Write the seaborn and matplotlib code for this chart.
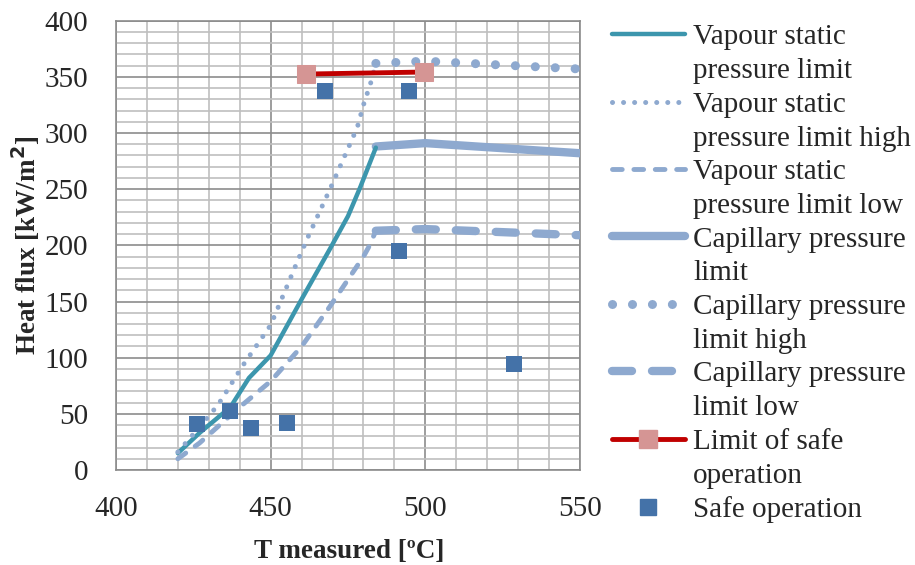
import matplotlib
matplotlib.use("Agg")
import matplotlib.pyplot as plt
import seaborn as sns
import pandas as pd
from matplotlib.lines import Line2D
from matplotlib.ticker import MultipleLocator

# ---------------- data ----------------
vap_x = [420, 427, 437, 443, 450, 460, 469, 475, 479, 484]
vap_y = [15, 33, 56, 82, 102, 152, 196, 226, 252, 287]

vap_hi_x = [420, 426, 433, 441, 450, 459, 462, 470, 478, 480, 482.5, 484]
vap_hi_y = [16, 35, 58, 93, 129, 188, 207, 255, 305, 325, 346, 362]

vap_lo_x = [420, 427, 440, 450, 460, 469, 480, 482, 484]
vap_lo_y = [10, 24, 56, 79, 110, 145, 190, 200, 213]

cap_x = [484, 500, 550]
cap_y = [288, 291, 282]
cap_hi_y = [362, 364, 357]
cap_lo_y = [213, 214.5, 209]

lim_x = [461.4, 499.6]
lim_y = [352.5, 354.3]

safe_x = [426.1, 436.9, 443.6, 455.4, 467.6, 491.5, 494.8, 528.6]
safe_y = [40.6, 52.5, 37.7, 42.1, 337.4, 195.0, 337.4, 94.4]

labels = ["Vapour static\npressure limit",
          "Vapour static\npressure limit high",
          "Vapour static\npressure limit low",
          "Capillary pressure\nlimit",
          "Capillary pressure\nlimit high",
          "Capillary pressure\nlimit low",
          "Limit of safe\noperation",
          "Safe operation"]

x_ticks = [400, 450, 500, 550]
y_ticks = [0, 50, 100, 150, 200, 250, 300, 350, 400]

# ---------------- style ----------------
sns.set_style("white")
plt.rcParams['font.family'] = ['Liberation Serif', 'DejaVu Serif']

TEAL = "#3C96AD"
LBLUE = "#8EA9CF"
RED = "#C00000"
PINK = "#D59594"
DBLUE = "#4472A8"

fig = plt.figure(figsize=(9.15, 5.65), dpi=100)
ax = fig.add_axes([116/915, 1-470/565, (580-116)/915, (470-20.7)/565])

def df(x, y):
    return pd.DataFrame({"x": x, "y": y})

# capillary lines (drawn under vapour lines)
sns.lineplot(data=df(cap_x, cap_y), x="x", y="y", ax=ax, sort=False, estimator=None,
             color=LBLUE, lw=6, solid_capstyle="round", zorder=3)
sns.lineplot(data=df(cap_x, cap_hi_y), x="x", y="y", ax=ax, sort=False, estimator=None,
             color=LBLUE, lw=6.5, linestyle=(0, (0.01, 2.2)), dash_capstyle="round", zorder=3)
sns.lineplot(data=df(cap_x, cap_lo_y), x="x", y="y", ax=ax, sort=False, estimator=None,
             color=LBLUE, lw=6, linestyle=(0, (2.4, 2.4)), dash_capstyle="round", zorder=3)

# vapour lines
sns.lineplot(data=df(vap_x, vap_y), x="x", y="y", ax=ax, sort=False, estimator=None,
             color=TEAL, lw=3.2, solid_capstyle="round", zorder=4)
sns.lineplot(data=df(vap_hi_x, vap_hi_y), x="x", y="y", ax=ax, sort=False, estimator=None,
             color=LBLUE, lw=3.6, linestyle=(0, (0.01, 2.2)), dash_capstyle="round", zorder=4)
sns.lineplot(data=df(vap_lo_x, vap_lo_y), x="x", y="y", ax=ax, sort=False, estimator=None,
             color=LBLUE, lw=3.5, linestyle=(0, (2, 2.4)), dash_capstyle="round", zorder=4)

# limit of safe operation
sns.lineplot(data=df(lim_x, lim_y), x="x", y="y", ax=ax, sort=False, estimator=None,
             color=RED, lw=3.5, marker="s", markersize=13.5, markerfacecolor=PINK,
             markeredgecolor=PINK, zorder=5)

# safe operation points
sns.scatterplot(data=df(safe_x, safe_y), x="x", y="y", ax=ax, marker="s", s=130,
                color=DBLUE, edgecolor=DBLUE, linewidth=0, zorder=6)

# ---------------- axes ----------------
ax.set_xlim(400, 550)
ax.set_ylim(0, 400)
ax.set_xticks(x_ticks)
ax.set_yticks(y_ticks)
ax.xaxis.set_minor_locator(MultipleLocator(10))
ax.yaxis.set_minor_locator(MultipleLocator(10))
ax.grid(which="minor", color="#BFBFBF", lw=1.2, zorder=0)
ax.grid(which="major", color="#8C8C8C", lw=1.2, zorder=0)
ax.set_axisbelow(True)
for s in ax.spines.values():
    s.set_color("#8C8C8C")
    s.set_linewidth(1.2)
ax.tick_params(which="both", length=0)
ax.tick_params(axis="x", labelsize=21, pad=19)
ax.tick_params(axis="y", labelsize=21, pad=20)

ax.set_xlabel("T measured [ºC]", fontsize=19.5, fontweight="bold")
ax.set_ylabel("Heat flux [kW/m$^\\mathbf{2}$]", fontsize=19.5, fontweight="bold")
ax.xaxis.label.set_va("center")
ax.yaxis.label.set_va("center")
ax.xaxis.set_label_coords((349-116)/464, (470-551)/449.3)
ax.yaxis.set_label_coords((26-116)/464, 0.5)

# ---------------- legend ----------------
blank = Line2D([], [], color="none")
h_list = [
    Line2D([], [], color=TEAL, lw=3.2, solid_capstyle="round"),
    Line2D([], [], color=LBLUE, lw=3.6, linestyle=(0, (0.01, 2.2)), dash_capstyle="round"),
    Line2D([], [], color=LBLUE, lw=3.5, linestyle=(0, (2, 2.4)), dash_capstyle="round"),
    Line2D([], [], color=LBLUE, lw=6, solid_capstyle="round"),
    Line2D([], [], color=LBLUE, lw=6.5, linestyle=(0, (0.01, 2.2)), dash_capstyle="round"),
    Line2D([], [], color=LBLUE, lw=6, linestyle=(0, (2.4, 2.4)), dash_capstyle="round"),
    Line2D([], [], color=RED, lw=3.5, marker="s", markersize=13.5, markerfacecolor=PINK,
           markeredgecolor=PINK, solid_capstyle="round"),
    Line2D([], [], color="none", marker="s", markersize=11, markerfacecolor=DBLUE,
           markeredgecolor=DBLUE),
]
handles, texts = [], []
for h, lab in zip(h_list, labels):
    parts = lab.split("\n")
    handles.append(h)
    texts.append(parts[0])
    for p in parts[1:]:
        handles.append(blank)
        texts.append(p)

leg = fig.legend(handles, texts, loc="upper left", bbox_to_anchor=(612/915, 1-24/565),
                 frameon=False, fontsize=21, handlelength=2.5, handletextpad=0.28,
                 labelspacing=0.25, borderaxespad=0, borderpad=0)

fig.savefig("out.png", dpi=100)
